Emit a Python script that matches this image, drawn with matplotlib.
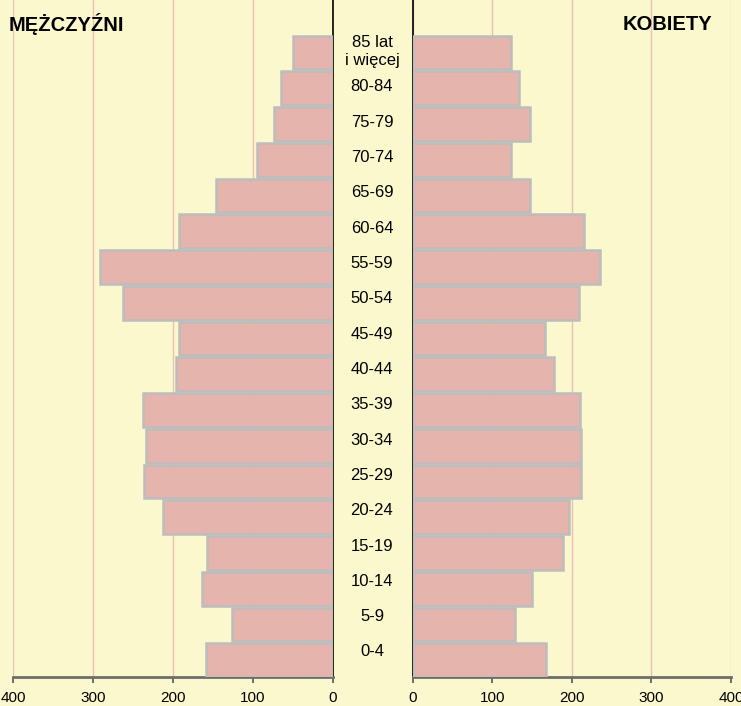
import matplotlib.pyplot as plt
from matplotlib.transforms import blended_transform_factory

# grupy wieku, od najmłodszej
wiek = ['0-4', '5-9', '10-14', '15-19', '20-24', '25-29', '30-34', '35-39',
        '40-44', '45-49', '50-54', '55-59', '60-64', '65-69', '70-74',
        '75-79', '80-84', '85 lat\ni więcej']
mezczyzni = [159, 126, 164, 157, 213, 236, 234, 237, 196, 192, 262, 291,
             192, 146, 95, 74, 65, 50]
kobiety = [167, 129, 150, 189, 196, 212, 211, 210, 178, 166, 209, 236,
           215, 147, 123, 147, 133, 123]
ticks = [0, 100, 200, 300, 400]

tlo = '#fbf8ce'
slupek = '#e5b4ac'
ramka = '#bdbdbd'
siatka = '#eac0b4'

plt.rcParams['font.family'] = ['Liberation Sans', 'DejaVu Sans']

fig = plt.figure(figsize=(7.41, 7.06), dpi=100, facecolor=tlo)
axL = fig.add_axes([13 / 741, 29 / 706, 320 / 741, 677 / 706])
axR = fig.add_axes([412.7 / 741, 29 / 706, 318.3 / 741, 677 / 706])

y = list(range(len(wiek)))
for ax, vals in ((axL, mezczyzni), (axR, kobiety)):
    ax.set_facecolor(tlo)
    ax.barh(y, vals, height=0.94, color=slupek, edgecolor=ramka,
            linewidth=1.8, zorder=3)
    ax.set_xlim(0, 400)
    ax.set_ylim(-0.47, 18.47)
    ax.set_xticks(ticks)
    ax.set_yticks([])
    ax.xaxis.grid(True, color=siatka, linewidth=1, zorder=0)
    ax.tick_params(axis='x', length=4, width=1.2, color='#555555',
                   labelsize=11, pad=6)
    ax.spines['top'].set_visible(False)
    ax.spines['bottom'].set_color('#6e6e6e')
    ax.spines['bottom'].set_linewidth(2)

axL.invert_xaxis()
axL.spines['left'].set_visible(False)
axL.spines['right'].set_color('black')
axL.spines['right'].set_linewidth(1.2)
axR.spines['right'].set_visible(False)
axR.spines['left'].set_color('black')
axR.spines['left'].set_linewidth(1.2)

tr = blended_transform_factory(axR.transAxes, axR.transData)
for i, lab in enumerate(wiek):
    axR.text(-0.128, 0.23 + i * 0.988, lab, transform=tr, ha='center',
             va='center', fontsize=12, clip_on=False)

fig.text(9 / 741, 1 - 24 / 706, 'MĘŻCZYŹNI', fontsize=14.5,
         fontweight='bold', va='center', ha='left')
fig.text(712 / 741, 1 - 24 / 706, 'KOBIETY', fontsize=14.5,
         fontweight='bold', va='center', ha='right')

fig.savefig('out.png', dpi=100, facecolor=tlo)
